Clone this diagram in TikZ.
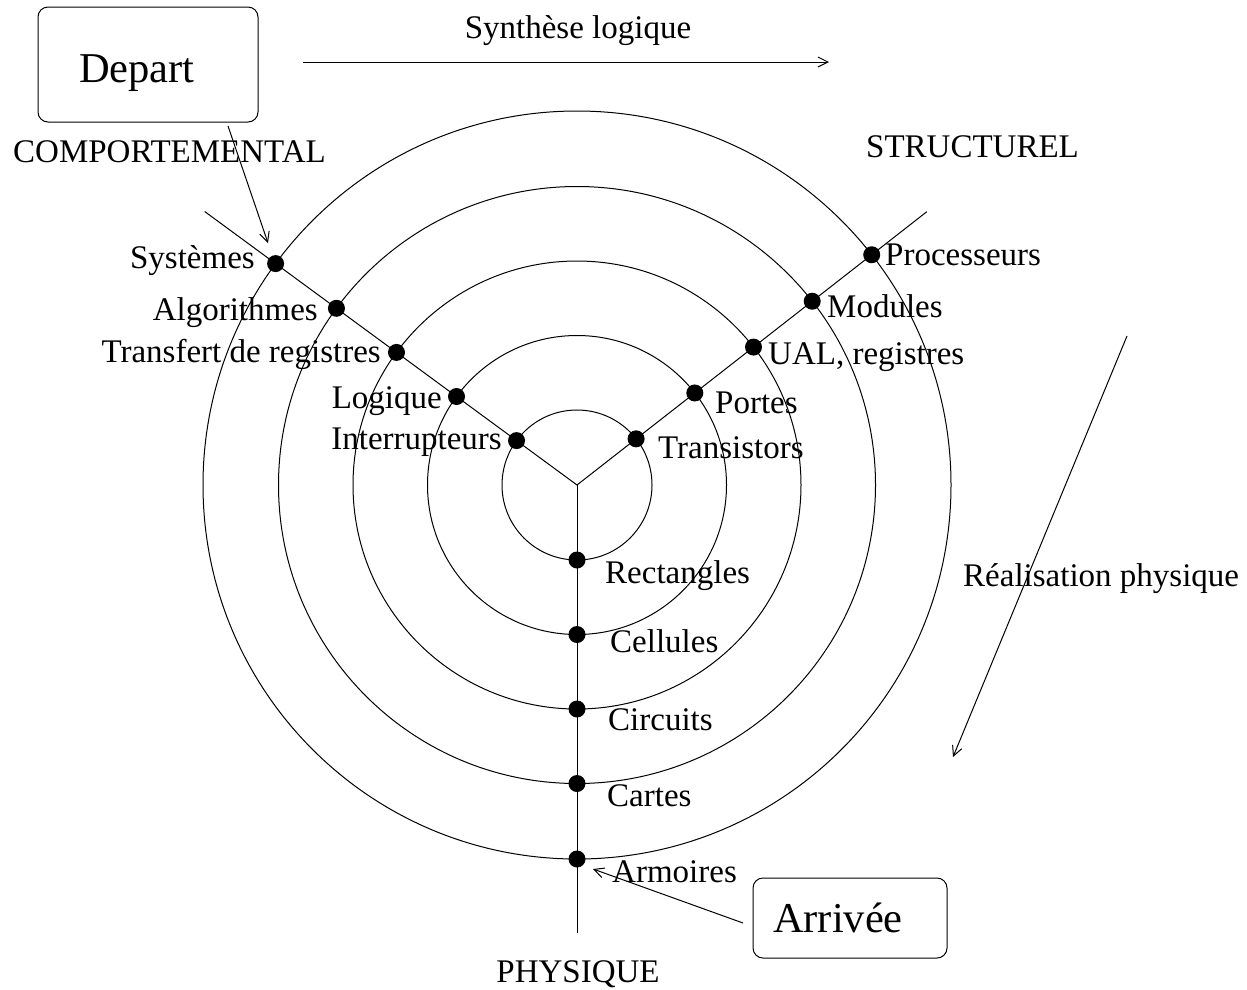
\documentclass[tikz,border=0pt]{standalone}
\usepackage{fontspec}
\setmainfont{Liberation Serif}
\usetikzlibrary{calc,arrows.meta}
\begin{document}
\begin{tikzpicture}[x=1pt,y=-1pt,
  thinline/.style={line width=1pt},
  dot/.style={circle,fill=black,inner sep=0pt,minimum size=17pt},
  lab/.style={inner sep=0pt,font=\fontsize{33}{38}\selectfont},
  bigbox/.style={draw,rounded corners=10pt,line width=1pt,inner ysep=0pt,align=left,font=\fontsize{42.5}{48}\selectfont},
  arr/.style={line width=1pt,-{Straight Barb[length=10pt,width=10pt]}}]
\useasboundingbox (0,0) rectangle (1247,989);
\coordinate (c) at (577,485);
% circles
\foreach \r in {75,149.5,224,298.5,374}{\draw[thinline] (c) circle[radius=\r pt];}
% branches
\coordinate (le) at ($(c)+(-143.7:462)$);
\coordinate (re) at ($(c)+(-38:444)$);
\coordinate (be) at (577,933);
\draw[thinline] (c) -- (le);
\draw[thinline] (c) -- (re);
\draw[thinline] (c) -- (be);
% dots left
\node[dot] (l1) at ($(c)+(-143.7:374)$) {};
\node[dot] (l2) at ($(c)+(-143.7:298.5)$) {};
\node[dot] (l3) at ($(c)+(-143.7:224)$) {};
\node[dot] (l4) at ($(c)+(-143.7:149.5)$) {};
\node[dot] (l5) at ($(c)+(-143.7:75)$) {};
% dots right
\node[dot] (r1) at ($(c)+(-38:374)$) {};
\node[dot] (r2) at ($(c)+(-38:298.5)$) {};
\node[dot] (r3) at ($(c)+(-38:224)$) {};
\node[dot] (r4) at ($(c)+(-38:149.5)$) {};
\node[dot] (r5) at ($(c)+(-38:75)$) {};
% dots bottom
\node[dot] (b1) at ($(c)+(0,374)$) {};
\node[dot] (b2) at ($(c)+(0,298.5)$) {};
\node[dot] (b3) at ($(c)+(0,224)$) {};
\node[dot] (b4) at ($(c)+(0,149.5)$) {};
\node[dot] (b5) at ($(c)+(0,75)$) {};
% labels left
\node[lab,anchor=base east] (tl1) at (255,268) {Systèmes};
\node[lab,anchor=base east] (tl2) at (318,320) {Algorithmes};
\node[lab,anchor=base east] (tl3) at (381,362) {Transfert de registres};
\node[lab,anchor=base east] (tl4) at (442,408) {Logique};
\node[lab,anchor=base east] (tl5) at (502,449) {Interrupteurs};
% labels right
\node[lab,anchor=base west] (tr1) at (885,265) {Processeurs};
\node[lab,anchor=base west] (tr2) at (827,317) {Modules};
\node[lab,anchor=base west] (tr3) at (768,364) {UAL, registres};
\node[lab,anchor=base west] (tr4) at (715,413) {Portes};
\node[lab,anchor=base west] (tr5) at (658,458) {Transistors};
% labels bottom
\node[lab,anchor=base west] (tb5) at (605,583) {Rectangles};
\node[lab,anchor=base west] (tb4) at (610,652) {Cellules};
\node[lab,anchor=base west] (tb3) at (608,730) {Circuits};
\node[lab,anchor=base west] (tb2) at (607,806) {Cartes};
\node[lab,anchor=base west] (tb1) at (612,882) {Armoires};
% domain titles
\node[lab,anchor=base west] (comp) at (13,162) {COMPORTEMENTAL};
\node[lab,anchor=base west] (struct) at (866,157) {STRUCTUREL};
\node[lab,anchor=base] (phys) at (578,982) {PHYSIQUE};
% synthese
\node[lab,anchor=base] (synt) at (578,38) {Synthèse logique};
\coordinate (s1) at (303,62);
\coordinate (s2) at (829,62);
\draw[arr] (s1) -- (s2);
% realisation
\node[lab,anchor=base west] (real) at (963,586) {Réalisation physique};
\coordinate (p1) at (1127,336);
\coordinate (p2) at (953,757);
\draw[arr] (p1) -- (p2);
% depart / arrivee
\node[bigbox,inner xsep=41pt,text width=138pt,text height=44pt,text depth=9pt,minimum height=115pt] (dep) at (148,64.5) {Depart};
\node[bigbox,inner xsep=20pt,text width=154pt,minimum height=80pt] (arv) at (850,918) {Arrivée};
\coordinate (d1) at (228,126);
\coordinate (d2) at (268,243);
\draw[arr] (d1) -- (d2);
\coordinate (a1) at (743,923);
\coordinate (a2) at (593,869);
\draw[arr] (a1) -- (a2);
\end{tikzpicture}
\end{document}
